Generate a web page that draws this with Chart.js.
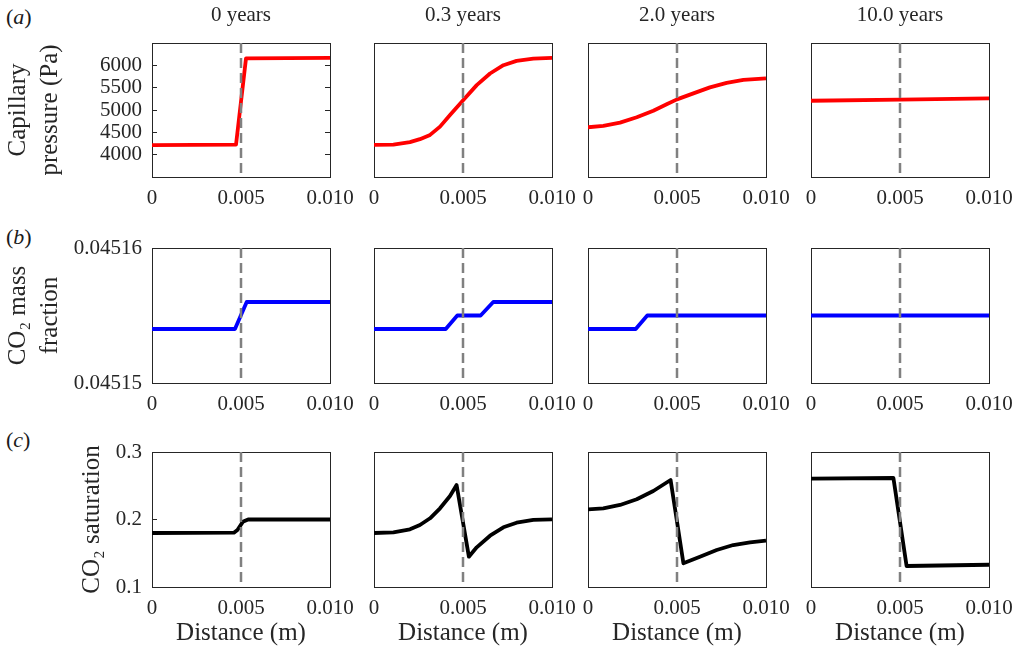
<!DOCTYPE html>
<html><head><meta charset="utf-8">
<script src="https://cdn.jsdelivr.net/npm/chart.js@4.4.1/dist/chart.umd.min.js"></script>
<style>
body{margin:0;background:#fff;width:1016px;height:653px;position:relative;overflow:hidden;font-family:'Liberation Serif','Times New Roman',serif;}
canvas{position:absolute;}
.lab{position:absolute;font-size:22px;line-height:22px;color:#1a1a1a;}
</style></head><body>
<div class="lab" style="left:6px;top:6px">(<i>a</i>)</div>
<div class="lab" style="left:6px;top:226px">(<i>b</i>)</div>
<div class="lab" style="left:6px;top:429px">(<i>c</i>)</div>
<script>
// ---------- data ----------
const xTicks = [0, 0.005, 0.01];
const xTickLabels = ['0', '0.005', '0.010'];
const timeLabels = ['0 years', '0.3 years', '2.0 years', '10.0 years'];
const interfaceX = 0.005;
const xTitle = 'Distance (m)';

// (a) capillary pressure
const pcRange = [3500, 6500];
const pcTicks = [4000, 4500, 5000, 5500, 6000];
const pcTickLabels = ['4000', '4500', '5000', '5500', '6000'];
const pcTitle = ['Capillary', 'pressure (Pa)'];
const pcX0 = [0, 0.00472, 0.00528, 0.01];
const pcY0 = [4215, 4225, 6155, 6165];
const pcX1 = [0, 0.00109, 0.00202, 0.00258, 0.00315, 0.00371, 0.00427, 0.00502, 0.00577, 0.00652, 0.00727, 0.00801, 0.00895, 0.01];
const pcY1 = [4220, 4225, 4280, 4347, 4443, 4628, 4888, 5223, 5557, 5817, 6003, 6099, 6152, 6165];
const pcX2 = [0, 0.00086, 0.0018, 0.00274, 0.00367, 0.00442, 0.005, 0.00592, 0.00685, 0.00779, 0.00873, 0.01];
const pcY2 = [4614, 4643, 4717, 4837, 4985, 5127, 5238, 5372, 5506, 5608, 5675, 5706];
const pcX3 = [0, 0.005, 0.01];
const pcY3 = [5207, 5232, 5260];

// (b) CO2 mass fraction
const xmRange = [0.04515, 0.04516];
const xmTicks = [0.04515, 0.04516];
const xmTickLabels = ['0.04515', '0.04516'];
const xmTitle = ['CO\u2082 mass', 'fraction'];
const xmX0 = [0, 0.00466, 0.00532, 0.01];
const xmY0 = [0.045154, 0.045154, 0.045156, 0.045156];
const xmX1 = [0, 0.00403, 0.00468, 0.00599, 0.0067, 0.01];
const xmY1 = [0.045154, 0.045154, 0.045155, 0.045155, 0.045156, 0.045156];
const xmX2 = [0, 0.00268, 0.00333, 0.01];
const xmY2 = [0.045154, 0.045154, 0.045155, 0.045155];
const xmX3 = [0, 0.01];
const xmY3 = [0.045155, 0.045155];

// (c) CO2 saturation
const sgRange = [0.1, 0.3];
const sgTicks = [0.1, 0.2, 0.3];
const sgTickLabels = ['0.1', '0.2', '0.3'];
const sgTitle = 'CO\u2082 saturation';
const sgX0 = [0, 0.0046, 0.0048, 0.0051, 0.0054, 0.01];
const sgY0 = [0.18, 0.1805, 0.1845, 0.1965, 0.2, 0.2];
const sgX1 = [0, 0.00109, 0.00202, 0.00258, 0.00315, 0.00371, 0.00427, 0.00464, 0.00533, 0.00577, 0.00652, 0.00727, 0.00801, 0.00895, 0.01];
const sgY1 = [0.18, 0.181, 0.1855, 0.1919, 0.2018, 0.2166, 0.2348, 0.2511, 0.1449, 0.1588, 0.176, 0.1884, 0.1953, 0.1993, 0.2003];
const sgX2 = [0, 0.00086, 0.0018, 0.00274, 0.00367, 0.00464, 0.00536, 0.00629, 0.00723, 0.00816, 0.0091, 0.01];
const sgY2 = [0.2151, 0.2166, 0.2215, 0.2299, 0.2422, 0.2585, 0.1351, 0.1449, 0.1548, 0.1622, 0.166, 0.1686];
const sgX3 = [0, 0.00463, 0.00537, 0.01];
const sgY3 = [0.2605, 0.2615, 0.1311, 0.133];

// ---------- layout / style ----------
const ink = '#262626';
const FONT = "'Liberation Serif', 'Times New Roman', serif";
Chart.defaults.font.family = FONT;
Chart.defaults.color = ink;
const colGeom = [
  {cl: 0, pl: 152, pr: 330, cr: 360},
  {cl: 344, pl: 374, pr: 552, cr: 582},
  {cl: 558, pl: 588, pr: 766, cr: 796},
  {cl: 781, pl: 811, pr: 989, cr: 1016}
];
const rowGeom = [
  {ct: 0, pt: 43, pb: 177, cb: 212},
  {ct: 233, pt: 248, pb: 383, cb: 418},
  {ct: 437, pt: 452, pb: 587, cb: 653}
];
const rows = [
  {range: pcRange, ticks: pcTicks, labels: pcTickLabels, title: pcTitle, titlePad: 1.75, color: '#ff0000',
   xs: [pcX0, pcX1, pcX2, pcX3], ys: [pcY0, pcY1, pcY2, pcY3]},
  {range: xmRange, ticks: xmTicks, labels: xmTickLabels, title: xmTitle, titlePad: 1.75, color: '#0000ff',
   xs: [xmX0, xmX1, xmX2, xmX3], ys: [xmY0, xmY1, xmY2, xmY3]},
  {range: sgRange, ticks: sgTicks, labels: sgTickLabels, title: sgTitle, titlePad: 75.75, color: '#000000',
   xs: [sgX0, sgX1, sgX2, sgX3], ys: [sgY0, sgY1, sgY2, sgY3]}
];
const TITLE_BOX = 43;

function zeroPad(s) { s.paddingLeft = 0; s.paddingRight = 0; s.paddingTop = 0; s.paddingBottom = 0; }

function build(r, c) {
  const R = rows[r], G = colGeom[c], V = rowGeom[r];
  const w = G.cr - G.cl, h = V.cb - V.ct;
  const cv = document.createElement('canvas');
  cv.width = w; cv.height = h;
  cv.style.left = G.cl + 'px'; cv.style.top = V.ct + 'px';
  cv.style.width = w + 'px'; cv.style.height = h + 'px';
  document.body.appendChild(cv);
  const padL = G.pl - G.cl, padR = G.cr - G.pr;
  const padT = V.pt - V.ct - (r === 0 ? TITLE_BOX : 0), padB = V.cb - V.pb;
  const first = c === 0;
  const border = {display: true, color: ink, width: 1};
  const yTicksFn = s => { s.ticks = R.ticks.map(v => ({value: v})); };
  const tickFont = {family: FONT, size: 21, lineHeight: 1.2, weight: 'normal'};

  new Chart(cv, {
    type: 'line',
    data: {
      datasets: [
        {data: R.xs[c].map((x, i) => ({x: x, y: R.ys[c][i]})), borderColor: R.color, borderWidth: 3.8,
         pointRadius: 0, tension: 0, fill: false, order: 2, xAxisID: 'x', yAxisID: 'y', borderJoinStyle: 'round'},
        {data: [{x: interfaceX, y: R.range[1]}, {x: interfaceX, y: R.range[0]}], borderColor: '#808080',
         borderWidth: 2.5, borderDash: [10, 5], pointRadius: 0, fill: false, order: 1, xAxisID: 'x', yAxisID: 'y'}
      ]
    },
    options: {
      responsive: false, animation: false, devicePixelRatio: 1, events: [],
      layout: {padding: 0},
      plugins: {
        legend: {display: false}, tooltip: {enabled: false},
        title: r === 0 ? {display: true, fullSize: false, text: timeLabels[c], color: ink,
          font: {family: FONT, size: 21, lineHeight: 1.2, weight: 'normal'}, padding: {top: 3, bottom: 14.8}} : {display: false}
      },
      scales: {
        x: {type: 'linear', position: 'bottom', min: 0, max: 0.01,
          afterBuildTicks: s => { s.ticks = xTicks.map(v => ({value: v})); },
          ticks: {callback: (v, i) => xTickLabels[i], color: ink, font: tickFont,
            padding: 1, maxRotation: 0, autoSkip: false},
          grid: {display: false}, border: border,
          title: r === 2 ? {display: true, text: xTitle, color: ink, font: {family: FONT, size: 25, lineHeight: 1.2, weight: 'normal'},
            padding: {top: 0, bottom: 5}} : {display: false},
          afterFit: s => { s.height = padB; zeroPad(s); }
        },
        xTop: {type: 'linear', position: 'top', min: 0, max: 0.01,
          ticks: {display: false}, grid: {display: false}, border: border,
          afterFit: s => { s.height = padT; zeroPad(s); }
        },
        y: {type: 'linear', position: 'left', min: R.range[0], max: R.range[1],
          afterBuildTicks: yTicksFn,
          ticks: {display: first, callback: (v, i) => R.labels[i], color: ink, font: tickFont, padding: 15},
          grid: {display: first, drawOnChartArea: false, drawTicks: true, tickLength: -5, color: ink, lineWidth: 1},
          border: border,
          title: first ? {display: true, text: R.title, color: ink,
            font: {family: FONT, size: 25, lineHeight: 1.3, weight: 'normal'}, padding: {top: R.titlePad, bottom: 0}} : {display: false},
          afterFit: s => { s.width = padL; zeroPad(s); }
        },
        yR: {type: 'linear', position: 'right', min: R.range[0], max: R.range[1],
          afterBuildTicks: yTicksFn,
          ticks: {display: false},
          grid: {display: first, drawOnChartArea: false, drawTicks: true, tickLength: -5, color: ink, lineWidth: 1},
          border: border,
          afterFit: s => { s.width = padR; zeroPad(s); }
        }
      }
    }
  });
}
for (let r = 0; r < 3; r++) for (let c = 0; c < 4; c++) build(r, c);
</script>
</body></html>
